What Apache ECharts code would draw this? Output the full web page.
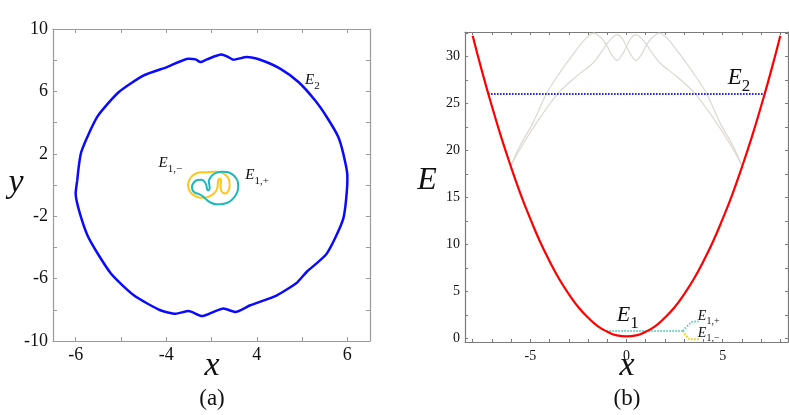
<!DOCTYPE html>
<html><head><meta charset="utf-8">
<script src="https://cdn.jsdelivr.net/npm/echarts@6/dist/echarts.min.js"></script>
<style>html,body{margin:0;padding:0;background:#fff}#c{width:789px;height:415px}</style>
</head><body><div id="c"></div>
<script>
// ---------- Panel (a) data ----------
const e2Loop = [[-5.93,0.3],[-5.75,2.12],[-5.04,4.38],[-4.09,5.96],[-2.99,7.03],[-1.96,7.56],[-1.01,8.1],[-0.7,8.05],[-0.49,7.88],[-0.2,8.05],[0.43,8.36],[0.68,8.25],[0.97,8.03],[1.56,8.21],[2.15,8.03],[3.03,7.46],[3.84,6.6],[4.57,5.43],[5.09,4.36],[5.6,3.08],[5.82,2.01],[6.0,0.62],[6.0,0.3],[5.82,-2.15],[5.09,-4.4],[4.21,-5.56],[3.77,-6.26],[2.89,-7.07],[1.71,-7.71],[1.05,-8.14],[0.53,-7.92],[0.02,-8.18],[-0.42,-8.4],[-1.01,-8.08],[-1.59,-8.25],[-2.26,-8.03],[-3.43,-7.07],[-4.46,-5.64],[-5.48,-3.22],[-6.0,-0.55],[-5.93,0.3]];
const e1MinusLoop = [[-0.2,0.82],[-0.45,0.82],[-0.68,0.74],[-0.86,0.57],[-0.98,0.32],[-1.04,0.02],[-1.0,-0.28],[-0.88,-0.55],[-0.68,-0.74],[-0.43,-0.82],[-0.18,-0.78],[0.04,-0.62],[0.2,-0.38],[0.27,-0.1],[0.28,0.18],[0.32,0.36],[0.38,0.4],[0.42,0.28],[0.4,0.02],[0.42,-0.3],[0.5,-0.5],[0.62,-0.54],[0.74,-0.38],[0.8,-0.08],[0.79,0.22],[0.72,0.5],[0.56,0.72],[0.34,0.83],[0.08,0.85],[-0.2,0.82]];
const e1PlusLoop = [[0.02,0.62],[0.2,0.78],[0.45,0.85],[0.7,0.83],[0.92,0.68],[1.08,0.45],[1.17,0.15],[1.18,-0.17],[1.12,-0.5],[0.98,-0.82],[0.78,-1.08],[0.5,-1.22],[0.2,-1.24],[-0.05,-1.12],[-0.22,-0.95],[-0.38,-0.72],[-0.55,-0.58],[-0.72,-0.5],[-0.84,-0.32],[-0.86,-0.08],[-0.78,0.16],[-0.62,0.32],[-0.45,0.33],[-0.3,0.2],[-0.22,-0.05],[-0.2,-0.25],[-0.14,-0.35],[-0.08,-0.2],[-0.1,0.05],[-0.12,0.25],[-0.06,0.45],[0.02,0.62]];
const aXTickValues = [-6,-4,-2,0,2,4,6];
const aXLabelValues = [-6,-2,2,6];
const aXLabelTexts = ['-6','-4','4','6'];
const aYTickValues = [-10,-8,-6,-4,-2,0,2,4,6,8,10];
const aYLabelValues = [-10,-6,-2,2,6,10];

// ---------- Panel (b) data ----------
const potX = [-8,-7.5,-7,-6.5,-6,-5.5,-5,-4.5,-4,-3.5,-3,-2.5,-2,-1.5,-1,-0.5,0,0.5,1,1.5,2,2.5,3,3.5,4,4.5,5,5.5,6,6.5,7,7.5,8];
const potE = [32.2,28.3,24.7,21.3,18.2,15.3,12.7,10.3,8.2,6.3,4.7,3.3,2.2,1.3,0.7,0.3,0.2,0.3,0.7,1.3,2.2,3.3,4.7,6.3,8.2,10.3,12.7,15.3,18.2,21.3,24.7,28.3,32.2];
const grayCurve1 = [[-6.0,18.4],[-5.56,20.41],[-4.87,22.9],[-4.17,26.03],[-3.48,28.23],[-2.79,30.18],[-2.18,31.78],[-1.71,32.49],[-1.31,31.96],[-1.05,31.25],[-0.78,30.2],[-0.49,29.57],[-0.22,30.2],[0,31.06],[0.22,31.9],[0.49,32.31],[0.78,31.9],[1.05,31.25],[1.22,30.71],[1.74,29.3],[2.61,27.87],[3.57,26.03],[4.69,22.9],[5.56,20.06],[6.0,18.4]];
const grayCurve2 = [[-6.0,18.4],[-5.56,20.06],[-4.69,22.9],[-3.57,26.03],[-2.61,27.87],[-1.74,29.3],[-1.22,30.71],[-1.05,31.25],[-0.78,31.9],[-0.49,32.31],[-0.22,31.9],[0,31.06],[0.22,30.2],[0.49,29.57],[0.78,30.2],[1.05,31.25],[1.31,31.96],[1.71,32.49],[2.18,31.78],[2.79,30.18],[3.48,28.23],[4.17,26.03],[4.87,22.9],[5.56,20.41],[6.0,18.4]];
const e2Level = [[-7.2,26],[7.2,26]];
const e1Level = [[-1.05,0.78],[2.94,0.78]];
const e1PlusBranch = [[2.94,0.78],[3.23,1.42],[3.49,1.77],[3.75,1.77]];
const e1MinusBranch = [[2.94,0.78],[3.14,0.17],[3.35,-0.11],[3.75,-0.11]];
const bXTickValues = [-8,-7,-6,-5,-4,-3,-2,-1,0,1,2,3,4,5,6,7,8];
const bXLabelValues = [-5,0,5];
const bYTickValues = [0,2.5,5,7.5,10,12.5,15,17.5,20,22.5,25,27.5,30,32.5];
const bYLabelValues = [0,5,10,15,20,25,30];

const SERIF = '"Liberation Serif", "DejaVu Serif", serif';
const axA = '#9a9a9a', axB = '#7a7a7a';

function axis(color, tickLen, tickVals, opts) {
  return Object.assign({
    type: 'value',
    axisLine: { show: true, onZero: false, lineStyle: { color: color, width: 1.2 } },
    splitLine: { show: false },
    axisTick: { show: true, inside: true, length: tickLen, lineStyle: { color: color }, customValues: tickVals },
    axisLabel: { show: false }
  }, opts);
}
function labels(vals, size, margin, fmt) {
  return { show: true, customValues: vals, fontFamily: SERIF, fontSize: size, color: '#111', margin: margin, formatter: fmt };
}

const chart = echarts.init(document.getElementById('c'), null, { renderer: 'canvas' });
const option = {
  animation: false,
  backgroundColor: '#fff',
  grid: [
    { left: 53, top: 29, width: 317, height: 312 },
    { left: 465, top: 32, width: 323, height: 310 }
  ],
  xAxis: [
    axis(axA, 4, aXTickValues, { gridIndex: 0, min: -7, max: 7, position: 'bottom',
      axisLabel: labels(aXLabelValues, 18, 5, v => aXLabelTexts[aXLabelValues.indexOf(v)]) }),
    axis(axA, 4, aXTickValues, { gridIndex: 0, min: -7, max: 7, position: 'top' }),
    axis(axB, 3, bXTickValues, { gridIndex: 1, min: -8.4, max: 8.4, position: 'bottom',
      axisLabel: labels(bXLabelValues, 14, 7, v => String(v)) }),
    axis(axB, 3, bXTickValues, { gridIndex: 1, min: -8.4, max: 8.4, position: 'top' })
  ],
  yAxis: [
    axis(axA, 4, aYTickValues, { gridIndex: 0, min: -10, max: 10, position: 'left',
      axisLabel: labels(aYLabelValues, 18, 5, v => String(v)) }),
    axis(axA, 4, aYTickValues, { gridIndex: 0, min: -10, max: 10, position: 'right' }),
    axis(axB, 3, bYTickValues, { gridIndex: 1, min: -0.4, max: 32.6, position: 'left',
      axisLabel: labels(bYLabelValues, 14, 5, v => String(v)) }),
    axis(axB, 3, bYTickValues, { gridIndex: 1, min: -0.4, max: 32.6, position: 'right' })
  ],
  series: [
    { name: 'E2 orbit', type: 'line', xAxisIndex: 0, yAxisIndex: 0, data: e2Loop, symbol: 'none', smooth: 0.2,
      lineStyle: { color: '#0a0aff', width: 2.5 } },
    { name: 'E1- orbit', type: 'line', xAxisIndex: 0, yAxisIndex: 0, data: e1MinusLoop, symbol: 'none', smooth: 0.3,
      lineStyle: { color: '#ffc61a', width: 2 } },
    { name: 'E1+ orbit', type: 'line', xAxisIndex: 0, yAxisIndex: 0, data: e1PlusLoop, symbol: 'none', smooth: 0.3,
      lineStyle: { color: '#1cb8bb', width: 2 } },
    { name: 'gray1', type: 'line', xAxisIndex: 2, yAxisIndex: 2, data: grayCurve1, symbol: 'none', smooth: 0.3,
      lineStyle: { color: '#dcd8d3', width: 1.2 } },
    { name: 'gray2', type: 'line', xAxisIndex: 2, yAxisIndex: 2, data: grayCurve2, symbol: 'none', smooth: 0.3,
      lineStyle: { color: '#dcd8d3', width: 1.2 } },
    { name: 'E2 level', type: 'line', xAxisIndex: 2, yAxisIndex: 2, data: e2Level, symbol: 'none',
      lineStyle: { color: '#1a1aff', width: 2, type: [1.5, 1.5] } },
    { name: 'E1 level', type: 'line', xAxisIndex: 2, yAxisIndex: 2, data: e1Level, symbol: 'none',
      lineStyle: { color: '#5cccc4', width: 2, type: [1.5, 1.5] } },
    { name: 'E1+ branch', type: 'line', xAxisIndex: 2, yAxisIndex: 2, data: e1PlusBranch, symbol: 'none', smooth: 0.4,
      lineStyle: { color: '#5cccc4', width: 2, type: [1.5, 1.5] } },
    { name: 'E1- branch', type: 'line', xAxisIndex: 2, yAxisIndex: 2, data: e1MinusBranch, symbol: 'none', smooth: 0.4,
      lineStyle: { color: '#f5c400', width: 2, type: [1.5, 1.5] } },
    { name: 'potential', type: 'line', xAxisIndex: 2, yAxisIndex: 2, data: potX.map((x, i) => [x, potE[i]]), symbol: 'none', smooth: true,
      lineStyle: { color: '#ff0000', width: 2.2 } }
  ]
};
chart.setOption(option);

// annotations placed at data coordinates
function px(gridIdx, pt) { return chart.convertToPixel({ gridIndex: gridIdx }, pt); }
function sub(main, s, size, subSize) {
  return {
    text: '{m|' + main + '}{s|' + s + '}',
    rich: {
      m: { fontFamily: SERIF, fontStyle: 'italic', fontSize: size, fill: '#111', verticalAlign: 'bottom' },
      s: { fontFamily: SERIF, fontSize: subSize, fill: '#111', padding: [0, 0, -size * 0.25, 0], verticalAlign: 'bottom' }
    }
  };
}
const annos = [
  { g: 0, at: [4.13, 6.71], main: 'E', s: '2', size: 15, subSize: 11 },
  { g: 0, at: [-2.34, 1.39], main: 'E', s: '1,−', size: 15, subSize: 11 },
  { g: 0, at: [1.49, 0.62], main: 'E', s: '1,+', size: 15, subSize: 11 },
  { g: 1, at: [5.27, 27.7], main: 'E', s: '2', size: 23, subSize: 17 },
  { g: 1, at: [-0.51, 2.4], main: 'E', s: '1', size: 22, subSize: 17 },
  { g: 1, at: [3.71, 2.38], main: 'E', s: '1,+', size: 14, subSize: 10 },
  { g: 1, at: [3.71, 0.56], main: 'E', s: '1,−', size: 14, subSize: 10 }
];
const graphics = annos.map(a => {
  const p = px(a.g, a.at);
  const st = sub(a.main, a.s, a.size, a.subSize);
  return { type: 'text', x: p[0], y: p[1], style: Object.assign(st, { align: 'left', verticalAlign: 'middle' }) };
});
function plain(x, y, t, size, italic) {
  return { type: 'text', x: x, y: y, style: { text: t, fontFamily: SERIF, fontStyle: italic ? 'italic' : 'normal',
    fontSize: size, fill: '#111', align: 'center', verticalAlign: 'middle' } };
}
graphics.push(plain(16, 183, 'y', 34, true));
graphics.push(plain(212, 366, 'x', 34, true));
graphics.push(plain(212, 399, '(a)', 23, false));
graphics.push(plain(427, 181, 'E', 32, true));
graphics.push(plain(627, 366, 'x', 34, true));
graphics.push(plain(627, 399, '(b)', 23, false));
chart.setOption({ graphic: graphics });
</script></body></html>
